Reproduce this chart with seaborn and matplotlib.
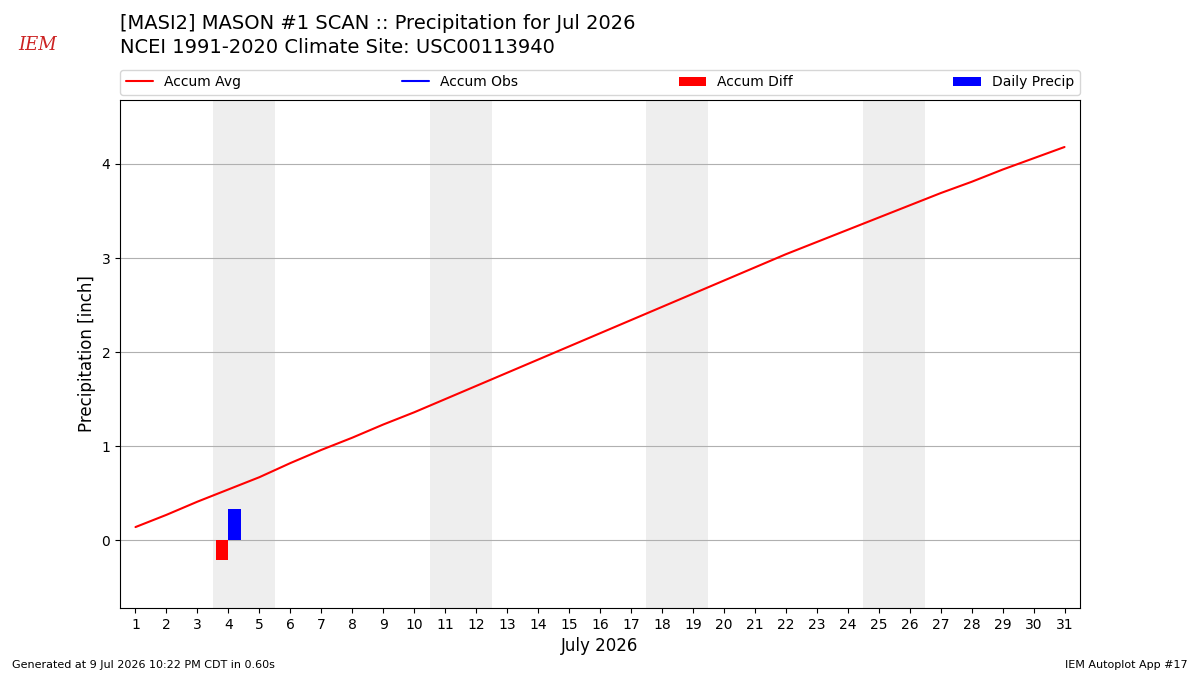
import matplotlib
matplotlib.use("Agg")
import matplotlib.pyplot as plt
import seaborn as sns
import pandas as pd
import numpy as np

days = list(range(1, 32))
accum_avg = [0.14, 0.27, 0.41, 0.54, 0.67, 0.82, 0.96, 1.09, 1.23, 1.36,
             1.50, 1.64, 1.78, 1.92, 2.06, 2.20, 2.34, 2.48, 2.62, 2.76,
             2.90, 3.04, 3.17, 3.30, 3.43, 3.56, 3.69, 3.81, 3.94, 4.06, 4.18]
obs_days = [4]
accum_obs = [0.33]
accum_diff = [-0.21]
daily_precip = [0.33]
weekends = [(4, 5), (11, 12), (18, 19), (25, 26)]

sns.set_style("white")
plt.rcParams['font.family'] = ['DejaVu Sans']
plt.rcParams.update({"text.color": "black", "axes.labelcolor": "black",
                     "xtick.color": "black", "ytick.color": "black",
                     "patch.edgecolor": "none"})

fig = plt.figure(figsize=(12, 6.75), dpi=100)
ax = fig.add_axes([0.1, 0.0993, 0.8, 0.7526])

for s, e in weekends:
    ax.axvspan(s - 0.5, e + 0.5, color="#eeeeee", zorder=0, lw=0)

df = pd.DataFrame({"day": days, "avg": accum_avg})
sns.lineplot(data=df, x="day", y="avg", color="red", lw=1.5, ax=ax,
             label="Accum Avg", zorder=3)
ax.plot(obs_days, accum_obs, color="blue", lw=1.5, label="Accum Obs", zorder=3)
ax.bar([d - 0.4 for d in obs_days], accum_diff, width=0.4, align="edge",
       color="red", label="Accum Diff", zorder=2, lw=0)
ax.bar(obs_days, daily_precip, width=0.4, align="edge", color="blue",
       label="Daily Precip", zorder=2, lw=0)

ax.set_xlim(0.5, 31.5)
ax.set_ylim(-0.72, 4.68)
ax.set_xticks(days)
ax.set_xticklabels([str(d) for d in days], fontsize=10)
ax.set_yticks([0, 1, 2, 3, 4])
ax.tick_params(axis='y', labelsize=10, left=True, length=3.5)
ax.tick_params(axis='x', bottom=True, length=3.5)
ax.yaxis.grid(True, color="#b0b0b0", lw=0.8, zorder=1)
ax.xaxis.grid(False)
ax.set_axisbelow(True)
for sp in ax.spines.values():
    sp.set_color("black")
    sp.set_linewidth(0.8)
ax.set_xlabel("July 2026", fontsize=12)
ax.set_ylabel("Precipitation [inch]", fontsize=12)

ax.legend(loc="lower left", bbox_to_anchor=(0, 1.01, 1, 0.1), mode="expand",
          ncol=4, fontsize=10, frameon=True, borderaxespad=0)

fig.text(0.1, 0.965, "[MASI2] MASON #1 SCAN :: Precipitation for Jul 2026",
         fontsize=14, va="center", ha="left")
fig.text(0.1, 0.930, "NCEI 1991-2020 Climate Site: USC00113940",
         fontsize=14, va="center", ha="left")
fig.text(0.031, 0.933, "IEM", fontsize=13, color="#cc2222", style="italic",
         family="DejaVu Serif", va="center", ha="center")
fig.text(0.01, 0.01, "Generated at 9 Jul 2026 10:22 PM CDT in 0.60s", fontsize=8)
fig.text(0.99, 0.01, "IEM Autoplot App #17", fontsize=8, ha="right")

fig.savefig("out.png", dpi=100)
